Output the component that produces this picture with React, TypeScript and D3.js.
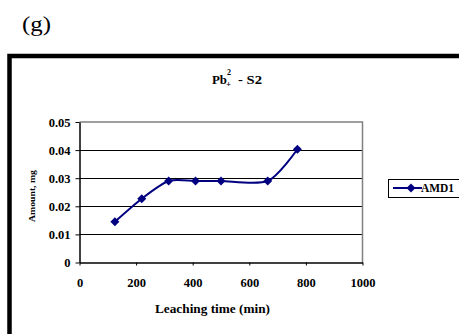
import React, { useEffect, useRef } from "react";
import * as d3 from "d3";

const times = [125, 220, 315, 410, 500, 665, 770];
const amounts = [0.0145, 0.0227, 0.029, 0.029, 0.029, 0.029, 0.0403];
const xTicks = [0, 200, 400, 600, 800, 1000];
const yTicks = [0, 0.01, 0.02, 0.03, 0.04, 0.05];
const seriesName = "AMD1";

const App: React.FC = () => {
  const svgRef = useRef<SVGSVGElement | null>(null);

  useEffect(() => {
    const svg = d3.select(svgRef.current);
    svg.selectAll("*").remove();

    const W = 459;
    const H = 334;
    const font = "'Liberation Serif', 'Times New Roman', serif";
    const navy = "#000080";

    svg.attr("width", W).attr("height", H).style("background", "#ffffff");

    // panel label
    svg.append("text")
      .attr("x", 22).attr("y", 31)
      .attr("textLength", 29).attr("lengthAdjust", "spacingAndGlyphs")
      .style("font-family", font).style("font-size", "21px")
      .text("(g)");

    // outer chart frame (thick)
    svg.append("path")
      .attr("d", `M9.5,${H + 5} L9.5,56 L${W + 5},56`)
      .attr("fill", "none").attr("stroke", "#000").attr("stroke-width", 4.5);

    // title Pb(2+) - S2
    svg.append("text").attr("x", 212).attr("y", 84)
      .attr("textLength", 15).attr("lengthAdjust", "spacingAndGlyphs")
      .style("font-family", font).style("font-size", "11.5px").style("font-weight", "bold").text("Pb");
    svg.append("text").attr("x", 227).attr("y", 75)
      .style("font-family", font).style("font-size", "8px").style("font-weight", "bold").text("2");
    svg.append("text").attr("x", 226).attr("y", 87)
      .style("font-family", font).style("font-size", "9px").style("font-weight", "bold").text("+");
    svg.append("text").attr("x", 238).attr("y", 84)
      .attr("textLength", 24).attr("lengthAdjust", "spacingAndGlyphs")
      .style("font-family", font).style("font-size", "11.5px").style("font-weight", "bold")
      .text("- S2");

    const x = d3.scaleLinear().domain([0, 1000]).range([79.5, 362.5]);
    const y = d3.scaleLinear().domain([0, 0.05]).range([262.5, 122]);

    // grid lines
    svg.append("g")
      .selectAll("line")
      .data(yTicks.filter(t => t > 0 && t < 0.05))
      .join("line")
      .attr("x1", x(0)).attr("x2", x(1000))
      .attr("y1", d => Math.round(y(d)) + 0.5).attr("y2", d => Math.round(y(d)) + 0.5)
      .attr("stroke", "#000").attr("stroke-width", 1);

    // plot area border (top/right gray)
    svg.append("path")
      .attr("d", `M${x(0)},${y(0.05)} L${x(1000)},${y(0.05)} L${x(1000)},${y(0)}`)
      .attr("fill", "none").attr("stroke", "#808080").attr("stroke-width", 1.5);

    // x axis
    const xAxis = svg.append("g")
      .attr("transform", `translate(0,${y(0)})`)
      .call(d3.axisBottom(x).tickValues(xTicks).tickSize(3).tickSizeOuter(0).tickPadding(13)
        .tickFormat(d => String(d)));
    xAxis.select(".domain").attr("stroke", "#000").attr("stroke-width", 1.5);
    xAxis.selectAll(".tick line").attr("stroke", "#000");
    xAxis.selectAll("text")
      .style("font-family", font).style("font-size", "12.5px").style("font-weight", "bold")
      .attr("fill", "#000");

    // y axis
    const yAxis = svg.append("g")
      .attr("transform", `translate(${x(0)},0)`)
      .call(d3.axisLeft(y).tickValues(yTicks).tickSize(4).tickSizeOuter(0).tickPadding(5)
        .tickFormat(d => (d === 0 ? "0" : d3.format(".2f")(d as number))));
    yAxis.select(".domain").attr("stroke", "#000").attr("stroke-width", 1.5);
    yAxis.selectAll(".tick line").attr("stroke", "#000");
    yAxis.selectAll("text")
      .style("font-family", font).style("font-size", "12.5px").style("font-weight", "bold")
      .attr("fill", "#000");

    // axis titles
    svg.append("text")
      .attr("x", 155).attr("y", 313)
      .attr("textLength", 115).attr("lengthAdjust", "spacingAndGlyphs")
      .style("font-family", font).style("font-size", "12px").style("font-weight", "bold")
      .text("Leaching time (min)");
    svg.append("text")
      .attr("transform", `translate(35,222) rotate(-90)`)
      .attr("textLength", 52).attr("lengthAdjust", "spacingAndGlyphs")
      .style("font-family", font).style("font-size", "8.5px").style("font-weight", "bold")
      .text("Amount, mg");

    // series
    const pts = times.map((t, i) => [t, amounts[i]] as [number, number]);
    const line = d3.line<[number, number]>()
      .x(d => x(d[0])).y(d => y(d[1]))
      .curve(d3.curveCardinal.tension(0.2));
    svg.append("path")
      .attr("d", line(pts))
      .attr("fill", "none").attr("stroke", navy).attr("stroke-width", 2);

    const r = 4.5;
    const diamond = `M0,${-r}L${r},0L0,${r}L${-r},0Z`;
    svg.append("g")
      .selectAll("path")
      .data(pts)
      .join("path")
      .attr("transform", d => `translate(${x(d[0])},${y(d[1])})`)
      .attr("d", diamond)
      .attr("fill", navy);

    // legend
    const lg = svg.append("g");
    lg.append("rect")
      .attr("x", 388.5).attr("y", 179.5).attr("width", 90).attr("height", 18)
      .attr("fill", "#fff").attr("stroke", "#000").attr("stroke-width", 1);
    lg.append("line")
      .attr("x1", 393).attr("x2", 422).attr("y1", 188).attr("y2", 188)
      .attr("stroke", navy).attr("stroke-width", 2);
    lg.append("path")
      .attr("transform", "translate(411,188)")
      .attr("d", diamond)
      .attr("fill", navy);
    lg.append("text")
      .attr("x", 421).attr("y", 192)
      .attr("textLength", 33).attr("lengthAdjust", "spacingAndGlyphs")
      .style("font-family", font).style("font-size", "12px").style("font-weight", "bold")
      .text(seriesName);
  }, []);

  return (
    <div style={{ position: "absolute", left: 0, top: 0, width: 459, height: 334, overflow: "hidden" }}>
      <svg ref={svgRef}></svg>
    </div>
  );
};

export default App;
